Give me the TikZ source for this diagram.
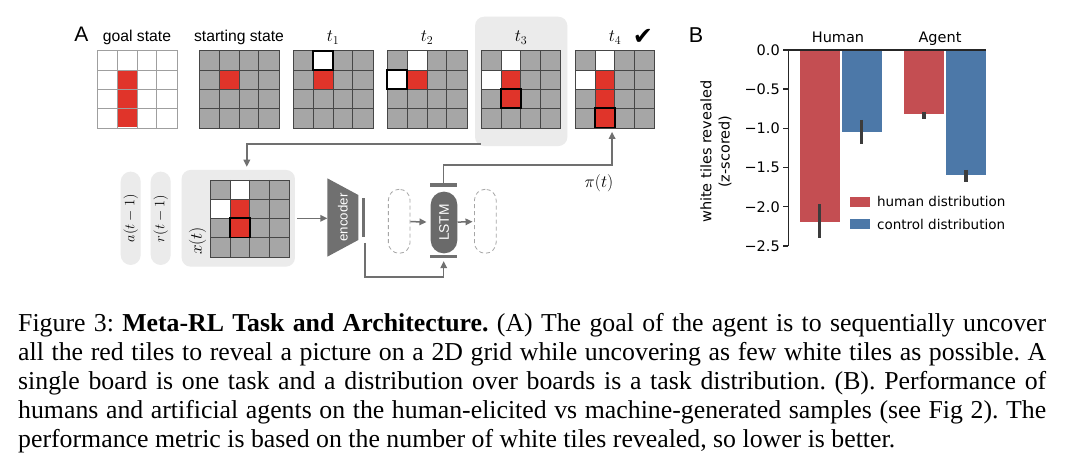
\documentclass[tikz,border=0pt]{standalone}
\usepackage[no-math]{fontspec}
\setmainfont{Liberation Serif}
\setsansfont{Liberation Sans}
\newfontfamily\plotfont{DejaVu Sans}
\usepackage{tikz}
\usetikzlibrary{positioning,arrows.meta}
\definecolor{tilegray}{RGB}{166,166,166}
\definecolor{tilered}{RGB}{224,52,42}
\definecolor{gridline}{RGB}{70,70,70}
\definecolor{panelgray}{RGB}{235,235,235}
\definecolor{wiregray}{RGB}{112,112,112}
\definecolor{barred}{RGB}{196,78,82}
\definecolor{barblue}{RGB}{76,120,168}
\definecolor{errgray}{RGB}{60,60,60}
\definecolor{spine}{RGB}{38,38,38}
\newcommand{\tilew}{19.8}
\newcommand{\tileh}{19.2}
% board: name, top-left corner, base fill, grid colour, white cells, red cells, framed cells
\newcommand{\tileboard}[7]{%
  \node[board, fill=#3] (#1) at (#2) {};
  \foreach \c/\r in {#5}
    \fill[white] ([shift={(\c*\tilew,\r*\tileh)}]#1.north west) rectangle ++(\tilew,\tileh);
  \foreach \c/\r in {#6}
    \fill[tilered] ([shift={(\c*\tilew,\r*\tileh)}]#1.north west) rectangle ++(\tilew,\tileh);
  \foreach \k in {1,2,3} {
    \draw[#4, line width=0.6pt] ([shift={(\k*\tilew,0)}]#1.north west) -- ([shift={(\k*\tilew,0)}]#1.south west);
    \draw[#4, line width=0.6pt] ([shift={(0,\k*\tileh)}]#1.north west) -- ([shift={(0,\k*\tileh)}]#1.north east);
  }
  \draw[#4, line width=0.6pt] (#1.north west) rectangle (#1.south east);
  \foreach \c/\r in {#7}
    \draw[black, line width=1.8pt] ([shift={(\c*\tilew,\r*\tileh)}]#1.north west) rectangle ++(\tilew,\tileh);
}

\begin{document}
\begin{tikzpicture}[x=1pt, y=-1pt,
    board/.style={anchor=north west, inner sep=0pt, minimum width=79.2pt, minimum height=76.8pt},
    sanslab/.style={anchor=base, font=\sffamily\fontsize{15.7}{18}\selectfont},
    tlab/.style={anchor=base, font=\fontsize{17}{20}\selectfont},
    panel/.style={fill=panelgray, rounded corners=9pt, inner sep=0pt},
    capsule/.style={fill=panelgray, rotate=90, rounded corners=10pt, inner sep=0pt,
      minimum width=93.3pt, minimum height=20pt, font=\fontsize{14.5}{17}\selectfont},
    ghost/.style={draw=gray!70, dash pattern=on 4pt off 3pt, line width=0.8pt, rounded corners=10.8pt,
      minimum width=21.7pt, minimum height=64pt, inner sep=0pt},
    gate/.style={fill=wiregray, inner sep=0pt, minimum width=27.3pt, minimum height=3.4pt},
    flow/.style={draw=wiregray, line width=1.5pt, -{Triangle[length=7pt,width=6.5pt]}},
    plotlab/.style={font=\plotfont\fontsize{14.5}{18.3}\selectfont},
    legpatch/.style={inner sep=0pt, minimum width=20pt, minimum height=10pt}]
  \path[fill=white, use as bounding box] (0,0) rectangle (1080,476);

  % ---- panel A: boards over time ----
  \node[anchor=base, font=\sffamily\fontsize{21}{21}\selectfont] (labA) at (81.3,42) {A};
  \node[panel, minimum width=92.3pt, minimum height=129.3pt] (t3box) at (521.2,81.4) {};
  \tileboard{goal}{97.3,50.7}{white}{gray!75}{}{1/1,1/2,1/3}{}
  \tileboard{start}{199.3,50.7}{tilegray}{gridline}{}{1/1}{}
  \tileboard{t1}{293.3,50.7}{tilegray}{gridline}{1/0}{1/1}{1/0}
  \tileboard{t2}{387.3,50.7}{tilegray}{gridline}{1/0,0/1}{1/1}{0/1}
  \tileboard{t3}{481,50.7}{tilegray}{gridline}{1/0,0/1}{1/1,1/2}{1/2}
  \tileboard{t4}{575,50.7}{tilegray}{gridline}{1/0,0/1}{1/1,1/2,1/3}{1/3}
  \node[sanslab] (lgoal) at (137,42) {goal state};
  \node[sanslab] (lstart) at (239,42) {starting state};
  \node[tlab] (lt1) at (333,42) {$t_1$};
  \node[tlab] (lt2) at (427,42) {$t_2$};
  \node[tlab] (lt3) at (521,42) {$t_3$};
  \node[tlab] (lt4) at (615,42) {$t_4$};
  \node[font=\plotfont\fontsize{24}{24}\selectfont] (done) at (643,36.5) {✔};

  % ---- panel A: agent architecture ----
  \node[capsule] (aprev) at (130.7,218.3) {$a(t-1)$};
  \node[capsule] (rprev) at (160.7,218.3) {$r(t-1)$};
  \node[panel, minimum width=113.3pt, minimum height=96.7pt] (xbox) at (238.3,218.3) {};
  \tileboard{xgrid}{210,180}{tilegray}{gridline}{1/0,0/1}{1/1,1/2}{1/2}
  \node[rotate=90, font=\fontsize{16.5}{19}\selectfont] (xlab) at (197.5,241) {$x(t)$};
  % encoder
  \fill[wiregray] (327.3,178.3) -- (358.3,195) -- (358.3,240) -- (327.3,256.7) -- cycle;
  \node[rotate=90, text=white, font=\sffamily\fontsize{13.3}{16}\selectfont] (encoder) at (342.8,217.5) {encoder};
  \coordinate (encin) at (327.3,218.3);
  \node[gate, minimum width=3.7pt, minimum height=38.7pt] (encbar) at (363.5,217.3) {};
  % recurrent core
  \node[ghost] (ghostL) at (399.2,221.3) {};
  \node[ghost] (ghostR) at (485.3,221.3) {};
  \node[fill=wiregray!95!black, text=white, rotate=90, rounded corners=13pt, inner sep=0pt,
    minimum width=61.6pt, minimum height=26.6pt, font=\sffamily\fontsize{13.8}{16}\selectfont] (lstm) at (444,222.5) {LSTM};
  \node[gate] (lstmtop) at (443.7,185) {};
  \node[gate] (lstmbot) at (443.7,256.7) {};
  \node[font=\fontsize{17.5}{20}\selectfont] (pilab) at (599,183) {$\pi(t)$};

  % connectors
  \draw[flow] ([xshift=6pt,yshift=2pt]t3box.south west) -| ([xshift=-3pt,yshift=3pt]xgrid.north |- xbox.north);
  \draw[flow] ([xshift=2pt]xbox.east) -- (encin);
  \draw[flow] ([xshift=1.5pt,yshift=-6pt]encbar.south) |- ++(0,34) -| ([yshift=-2.5pt]lstmbot.south);
  \draw[flow, shorten >=4pt] (ghostL) -- (lstm);
  \draw[flow, shorten >=1.5pt] (lstm) -- (ghostR);
  \draw[flow] (lstmtop.north) -- ++(0,-18) -| ([xshift=-2.7pt,yshift=-4pt]t4.south);

  % ---- panel B: bar chart ----
  \node[anchor=base, font=\sffamily\fontsize{21.5}{22}\selectfont] (labB) at (696,42.5) {B};
  \foreach \x/\h/\col in {799.5/2.2/barred, 841.5/1.04/barblue, 904/0.82/barred, 946/1.6/barblue}
    \fill[\col] (\x,50) rectangle ({\x+40},{50+78.4*\h});
  \foreach \x/\lo/\hi in {819.5/1.97/2.40, 861.5/0.89/1.20, 924/0.79/0.88, 966/1.53/1.69}
    \draw[errgray, line width=3.3pt] (\x,{50+78.4*\lo}) -- (\x,{50+78.4*\hi});
  \draw[spine, line width=1.4pt] (788.3,246) -- (788.3,50) -- (986,50);
  \foreach \v/\s in {0/0.0, 0.5/−0.5, 1/−1.0, 1.5/−1.5, 2/−2.0, 2.5/−2.5} {
    \draw[spine, line width=1.4pt] (783,{50+78.4*\v}) -- (788.3,{50+78.4*\v});
    \node[plotlab, anchor=east, inner sep=0pt] at (780,{50+78.4*\v}) {\s};
  }
  \node[plotlab, anchor=base] (ghuman) at (838,43) {Human};
  \node[plotlab, anchor=base] (gagent) at (940,43) {Agent};
  \node[plotlab, rotate=90, align=center] (ylab) at (716,151.7) {white tiles revealed\\(z-scored)};
  \node[legpatch, fill=barred] (lgh) at (860,201.7) {};
  \node[legpatch, fill=barblue] (lgc) at (860,224.3) {};
  \node[plotlab, font=\plotfont\fontsize{13.5}{16}\selectfont, right=6.7pt of lgh, inner sep=0pt] (lgtext1) {human distribution};
  \node[plotlab, font=\plotfont\fontsize{13.5}{16}\selectfont, right=6.7pt of lgc, inner sep=0pt] (lgtext2) {control distribution};

  % ---- caption ----
  \node[anchor=base west, inner sep=0pt] (caption) at (18,331.7) {\parbox[t]{1028pt}{\fontsize{25.8}{29}\selectfont\frenchspacing
    Figure 3: \textbf{Meta-RL Task and Architecture.} (A) The goal of the agent is to sequentially uncover\linebreak
    all the red tiles to reveal a picture on a 2D grid while uncovering as few white tiles as possible. A\linebreak
    single board is one task and a distribution over boards is a task distribution. (B). Performance of\linebreak
    humans and artificial agents on the human-elicited vs machine-generated samples (see Fig 2). The\linebreak
    performance metric is based on the number of white tiles revealed, so lower is better.}};
\end{tikzpicture}
\end{document}
